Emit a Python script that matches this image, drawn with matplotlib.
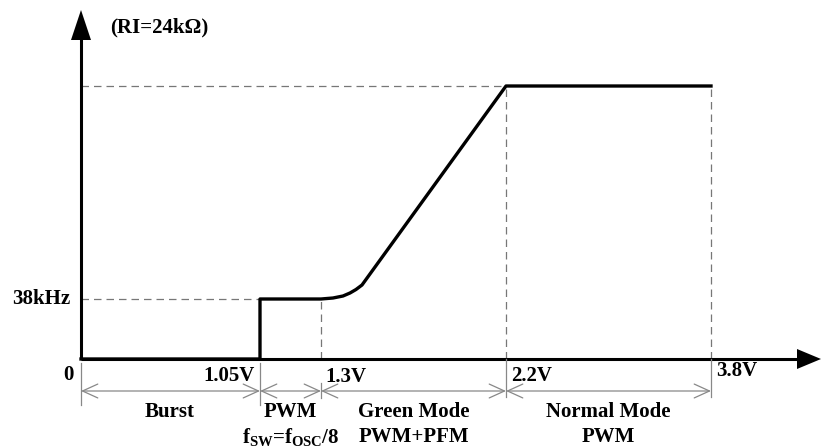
import numpy as np
import matplotlib
matplotlib.use('Agg')
import matplotlib.pyplot as plt

# schematic chart: x in drawing units along the voltage axis, y in drawing units along frequency axis
v_labels = ['0', '1.05V', '1.3V', '2.2V', '3.8V']
v_pos = [0, 179, 240, 425, 630]          # schematic positions of the voltage marks
f_low_label = '38kHz'
f_low = 60                                 # schematic height of 38kHz
f_high = 273                               # schematic height of the max frequency

# frequency curve (schematic)
curve_x = [0, 179, 179, 240, 252, 262, 269, 275, 281, 425, 630]
curve_y = [0, 0, 60, 60, 61, 63, 66, 69.5, 74, 273, 273]

modes_top = ['Burst', 'PWM', 'Green Mode', 'Normal Mode']
modes_bot = ['', r'f$_\mathrm{SW}$=f$_\mathrm{OSC}$/8', 'PWM+PFM', 'PWM']

plt.rcParams['font.family'] = 'Liberation Serif'
plt.rcParams['font.weight'] = 'bold'
plt.rcParams['mathtext.fontset'] = 'custom'
plt.rcParams['mathtext.rm'] = 'Liberation Serif:bold'
plt.rcParams['mathtext.it'] = 'Liberation Serif:bold'

fig = plt.figure(figsize=(8.21, 4.47), dpi=100)
ax = fig.add_axes([0, 0, 1, 1])
ax.set_xlim(-81, 740)
ax.set_ylim(-88, 359)
ax.axis('off')

dash = dict(color='#777777', lw=0.9, ls=(0, (6, 4)))
gray = '#888888'

# dashed guide lines
ax.plot([0, v_pos[1]], [f_low, f_low], **dash)
ax.plot([0, v_pos[3]], [f_high, f_high], **dash)
ax.plot([v_pos[2], v_pos[2]], [0, f_low], **dash)
ax.plot([v_pos[3], v_pos[3]], [0, f_high], **dash)
ax.plot([v_pos[4], v_pos[4]], [0, f_high], **dash)

# axes
ax.plot([0, 720], [0, 0], color='black', lw=2.2, solid_capstyle='butt')
ax.plot([0, 0], [0, 322], color='black', lw=2.2, solid_capstyle='butt')
ax.fill([716, 740, 716], [10, 0, -10], color='black', lw=0)
ax.fill([-10, 0, 10], [319, 349, 319], color='black', lw=0)

# curve
ax.plot(curve_x, curve_y, color='black', lw=2.4, solid_joinstyle='round')

# extension lines below the axis
ext = [(-4, -46), (-4, -46), (-24, -39), (0, -38), (0, -38)]
for x, (y0, y1) in zip(v_pos, ext):
    ax.plot([x, x], [y0, y1], color=gray, lw=0.9)

# dimension arrows
dim_y = -32
for a, b in zip(v_pos[:-1], v_pos[1:]):
    ax.annotate('', xy=(b, dim_y), xytext=(a, dim_y),
                arrowprops=dict(arrowstyle='<->,head_length=0.55,head_width=0.25',
                                color=gray, lw=0.9, shrinkA=0, shrinkB=0,
                                mutation_scale=20))

fs = 15
ax.text(29, 332, '(RI=24k\u03a9)', fontsize=fs, ha='left', va='center')
ax.text(-11, f_low, f_low_label, fontsize=fs, ha='right', va='center')
ax.text(-13, -16, v_labels[0], fontsize=fs, ha='center', va='center')
ax.text(174, -17, v_labels[1], fontsize=fs, ha='right', va='center')
ax.text(244, -18, v_labels[2], fontsize=fs, ha='left', va='center')
ax.text(430, -17, v_labels[3], fontsize=fs, ha='left', va='center')
ax.text(635, -12, v_labels[4], fontsize=fs, ha='left', va='center')

for a, b, t1, t2 in zip(v_pos[:-1], v_pos[1:], modes_top, modes_bot):
    c = (a + b) / 2
    if t1 == 'Burst':
        c = 89
    ax.text(c, -53, t1, fontsize=fs, ha='center', va='center')
    if t2:
        ax.text(c, -78, t2, fontsize=fs, ha='center', va='center')

fig.savefig('out.png', dpi=100)
